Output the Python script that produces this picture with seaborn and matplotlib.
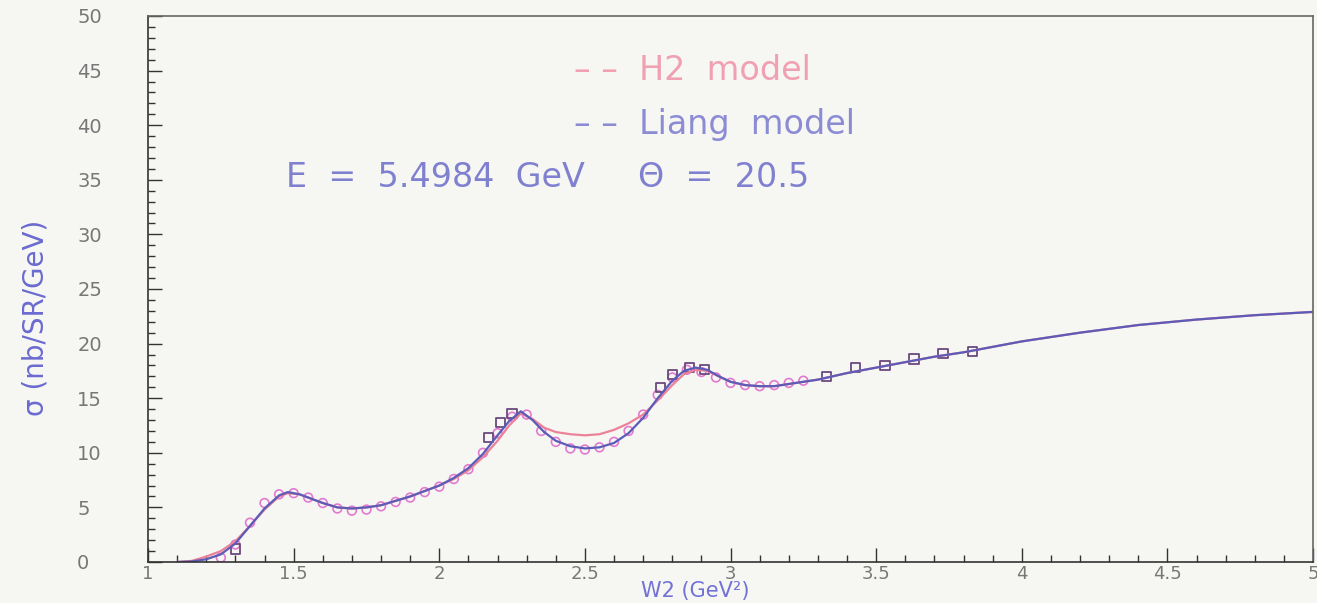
import matplotlib
matplotlib.use("Agg")
import matplotlib.pyplot as plt
import seaborn as sns
import pandas as pd
from matplotlib.ticker import MultipleLocator

# ---------------- data ----------------
model_w = [1.10, 1.15, 1.20, 1.25, 1.30, 1.35, 1.40, 1.45, 1.48, 1.52, 1.56, 1.60,
           1.65, 1.70, 1.75, 1.80, 1.85, 1.90, 1.95, 2.00, 2.05, 2.10, 2.15, 2.20,
           2.24, 2.28, 2.32, 2.36, 2.40, 2.45, 2.50, 2.55, 2.60, 2.65, 2.70, 2.75,
           2.80, 2.84, 2.88, 2.92, 2.96, 3.00, 3.05, 3.10, 3.15, 3.20, 3.30, 3.40,
           3.50, 3.60, 3.70, 3.80, 3.90, 4.00, 4.20, 4.40, 4.60, 4.80, 5.00]
liang_sigma = [0.0, 0.05, 0.25, 0.7, 1.7, 3.3, 4.9, 6.1, 6.4, 6.2, 5.8, 5.4,
               5.0, 4.9, 5.0, 5.2, 5.6, 6.0, 6.5, 7.0, 7.7, 8.6, 9.9, 11.6,
               12.9, 13.8, 13.0, 11.9, 11.1, 10.6, 10.4, 10.5, 10.9, 11.8, 13.2, 15.0,
               16.6, 17.5, 17.8, 17.6, 17.0, 16.5, 16.2, 16.1, 16.1, 16.3, 16.7, 17.3,
               17.8, 18.3, 18.8, 19.2, 19.7, 20.2, 21.0, 21.7, 22.2, 22.6, 22.9]
h2_sigma = [0.0, 0.1, 0.5, 1.0, 1.9, 3.3, 4.8, 6.0, 6.3, 6.2, 5.8, 5.4,
            5.0, 4.9, 5.0, 5.2, 5.6, 6.0, 6.5, 7.0, 7.6, 8.4, 9.6, 11.1,
            12.5, 13.6, 13.1, 12.3, 11.9, 11.7, 11.6, 11.7, 12.1, 12.7, 13.5, 14.8,
            16.2, 17.2, 17.6, 17.5, 17.0, 16.5, 16.2, 16.1, 16.1, 16.3, 16.7, 17.3,
            17.8, 18.3, 18.8, 19.2, 19.7, 20.2, 21.0, 21.7, 22.2, 22.6, 22.9]

circle_w = [1.25, 1.30, 1.35, 1.40, 1.45, 1.50, 1.55, 1.60, 1.65, 1.70, 1.75, 1.80,
            1.85, 1.90, 1.95, 2.00, 2.05, 2.10, 2.15, 2.20, 2.25, 2.30, 2.35, 2.40,
            2.45, 2.50, 2.55, 2.60, 2.65, 2.70, 2.75, 2.80, 2.85, 2.90, 2.95, 3.00,
            3.05, 3.10, 3.15, 3.20, 3.25]
circle_sigma = [0.4, 1.6, 3.6, 5.4, 6.2, 6.3, 5.9, 5.4, 4.9, 4.7, 4.8, 5.1,
                5.5, 5.9, 6.4, 6.9, 7.6, 8.5, 10.0, 11.8, 13.3, 13.5, 12.0, 11.0,
                10.4, 10.3, 10.5, 11.0, 12.0, 13.5, 15.3, 16.9, 17.6, 17.4, 16.9, 16.4,
                16.2, 16.1, 16.2, 16.4, 16.6]

square_w = [1.30, 2.17, 2.21, 2.25, 2.76, 2.80, 2.86, 2.91, 3.33, 3.43, 3.53,
            3.63, 3.73, 3.83]
square_sigma = [1.2, 11.4, 12.8, 13.6, 16.0, 17.2, 17.8, 17.6, 17.0, 17.8, 18.0,
                18.6, 19.1, 19.3]

x_ticks = [1, 1.5, 2, 2.5, 3, 3.5, 4, 4.5, 5]
x_tick_labels = ["1", "1.5", "2", "2.5", "3", "3.5", "4", "4.5", "5"]
y_ticks = [0, 5, 10, 15, 20, 25, 30, 35, 40, 45, 50]

# ---------------- figure ----------------
sns.set_style("ticks")
plt.rcParams['font.family'] = ['DejaVu Sans']

bg = "#f6f6f3"
fig = plt.figure(figsize=(13.17, 6.03), dpi=100, facecolor=bg)
ax = fig.add_axes([0.1124, 0.068, 0.8846, 0.9055])
ax.set_facecolor(bg)

blue = "#5c5cb8"
red = "#ec8299"
pink = "#e27ad0"
sq_col = "#6a4a7c"

df_l = pd.DataFrame({"W": model_w, "s": liang_sigma})
df_h = pd.DataFrame({"W": model_w, "s": h2_sigma})
df_c = pd.DataFrame({"W": circle_w, "s": circle_sigma})
df_s = pd.DataFrame({"W": square_w, "s": square_sigma})

sns.lineplot(data=df_h, x="W", y="s", ax=ax, color=red, lw=1.6, estimator=None, sort=True)
sns.lineplot(data=df_l, x="W", y="s", ax=ax, color=blue, lw=1.6, estimator=None, sort=True)
sns.scatterplot(data=df_c, x="W", y="s", ax=ax, marker="o", s=40,
                facecolors="none", edgecolor=pink, linewidth=1.2)
sns.scatterplot(data=df_s, x="W", y="s", ax=ax, marker="s", s=45,
                facecolors="none", edgecolor=sq_col, linewidth=1.3)

ax.set_xlim(1, 5)
ax.set_ylim(0, 50)
ax.set_xticks(x_ticks)
ax.set_xticklabels(x_tick_labels)
ax.set_yticks(y_ticks)
ax.xaxis.set_minor_locator(MultipleLocator(0.1))
ax.yaxis.set_minor_locator(MultipleLocator(1))
ax.tick_params(axis="both", which="major", direction="in", length=10, width=1,
               color="#333333", labelcolor="#777777", labelsize=13)
ax.tick_params(axis="both", which="minor", direction="in", length=5, width=1,
               color="#333333")
ax.tick_params(axis="y", pad=51, labelsize=14)
ax.tick_params(axis="x", pad=2)
for lab in ax.get_yticklabels():
    lab.set_horizontalalignment("left")

for side in ["left", "bottom"]:
    ax.spines[side].set_color("#333333")
    ax.spines[side].set_linewidth(1.2)
for side in ["top", "right"]:
    ax.spines[side].set_visible(True)
    ax.spines[side].set_color("#666666")
    ax.spines[side].set_linewidth(1.2)

ax.set_xlabel("W2 (GeV²)", color="#7272d6", fontsize=15)
ax.xaxis.set_label_coords(0.47, -0.035)
ax.xaxis.label.set_verticalalignment("top")
ax.set_ylabel("σ (nb/SR/GeV)", color="#6a6ad0", fontsize=20)
ax.yaxis.set_label_coords(-0.097, 0.447)
ax.yaxis.label.set_verticalalignment("center")

ax.text(0.366, 0.90, "– –  H2  model", transform=ax.transAxes, color="#f0a0b0",
        fontsize=24, ha="left", va="center")
ax.text(0.366, 0.802, "– –  Liang  model", transform=ax.transAxes, color="#8c8cd4",
        fontsize=24, ha="left", va="center")
ax.text(0.118, 0.705, "E  =  5.4984  GeV     Θ  =  20.5", transform=ax.transAxes,
        color="#8080d0", fontsize=24, ha="left", va="center")

fig.savefig("out.png", dpi=100, facecolor=bg)
